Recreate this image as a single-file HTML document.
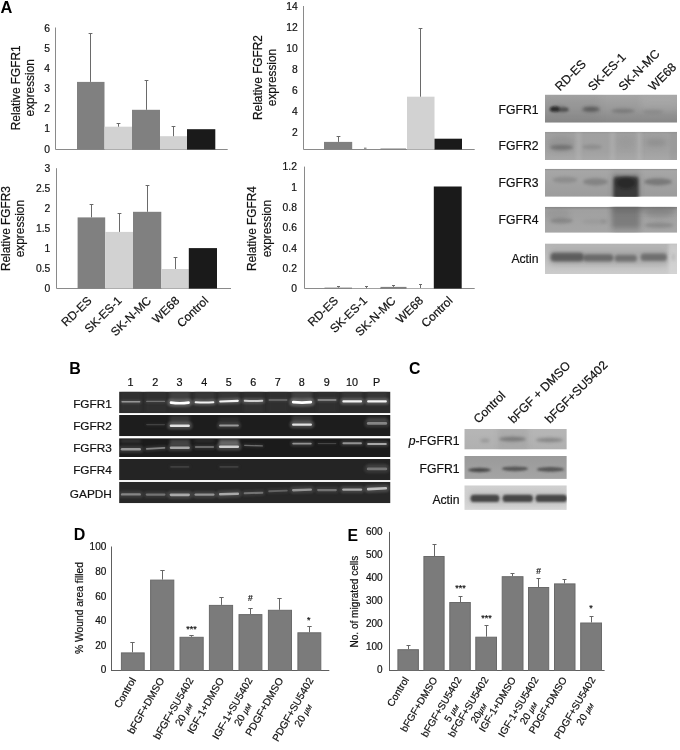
<!DOCTYPE html>
<html lang="en"><head><meta charset="utf-8"><title>FGFR expression figure</title>
<style>
html,body{margin:0;padding:0;background:#fff;}
svg{display:block;font-family:"Liberation Sans", sans-serif;}
</style></head><body>
<svg width="680" height="750" viewBox="0 0 680 750">
<rect width="680" height="750" fill="#fff"/>
<defs>
<filter id="b1" filterUnits="userSpaceOnUse" x="0" y="0" width="680" height="750"><feGaussianBlur stdDeviation="0.7"/></filter>
<filter id="b2" filterUnits="userSpaceOnUse" x="0" y="0" width="680" height="750"><feGaussianBlur stdDeviation="1.2"/></filter>
<filter id="b3" filterUnits="userSpaceOnUse" x="0" y="0" width="680" height="750"><feGaussianBlur stdDeviation="1.8"/></filter>
<filter id="b4" filterUnits="userSpaceOnUse" x="0" y="0" width="680" height="750"><feGaussianBlur stdDeviation="2.6"/></filter>
<filter id="b5" filterUnits="userSpaceOnUse" x="0" y="0" width="680" height="750"><feGaussianBlur stdDeviation="3.6"/></filter>
<linearGradient id="g1" x1="0" y1="0" x2="0" y2="1"><stop offset="0" stop-color="#a6a6a6"/><stop offset="0.5" stop-color="#999999"/><stop offset="1" stop-color="#878787"/></linearGradient>
<clipPath id="c1"><rect x="545.0" y="94.6" width="132.0" height="28.1"/></clipPath>
<linearGradient id="g2" x1="0" y1="0" x2="0" y2="1"><stop offset="0" stop-color="#959595"/><stop offset="0.08" stop-color="#a0a0a0"/><stop offset="0.7" stop-color="#a1a1a1"/><stop offset="1" stop-color="#a8a8a8"/></linearGradient>
<clipPath id="c2"><rect x="545.0" y="131.8" width="132.0" height="28.2"/></clipPath>
<linearGradient id="g3" x1="0" y1="0" x2="0" y2="1"><stop offset="0" stop-color="#8c8c8c"/><stop offset="0.07" stop-color="#a6a6a6"/><stop offset="1" stop-color="#9c9c9c"/></linearGradient>
<clipPath id="c3"><rect x="545.0" y="168.8" width="132.0" height="28.0"/></clipPath>
<linearGradient id="g4" x1="0" y1="0" x2="0" y2="1"><stop offset="0" stop-color="#868686"/><stop offset="0.12" stop-color="#a0a0a0"/><stop offset="1" stop-color="#a6a6a6"/></linearGradient>
<clipPath id="c4"><rect x="545.0" y="206.8" width="132.0" height="26.0"/></clipPath>
<linearGradient id="g5" x1="0" y1="0" x2="0" y2="1"><stop offset="0" stop-color="#b4b4b4"/><stop offset="0.4" stop-color="#c0c0c0"/><stop offset="1" stop-color="#cbcbcb"/></linearGradient>
<clipPath id="c5"><rect x="545.0" y="243.4" width="132.0" height="30.6"/></clipPath>
<linearGradient id="g6" x1="0" y1="0" x2="0" y2="1"><stop offset="0" stop-color="#b6b6b6"/><stop offset="1" stop-color="#b0b0b0"/></linearGradient>
<clipPath id="c6"><rect x="464.3" y="428.9" width="102.5" height="20.7"/></clipPath>
<linearGradient id="g7" x1="0" y1="0" x2="0" y2="1"><stop offset="0" stop-color="#9a9a9a"/><stop offset="1" stop-color="#a4a4a4"/></linearGradient>
<clipPath id="c7"><rect x="464.3" y="456.0" width="102.5" height="22.9"/></clipPath>
<linearGradient id="g8" x1="0" y1="0" x2="0" y2="1"><stop offset="0" stop-color="#cfcfcf"/><stop offset="1" stop-color="#d8d8d8"/></linearGradient>
<clipPath id="c8"><rect x="464.3" y="485.3" width="102.5" height="24.6"/></clipPath>
<clipPath id="c9"><rect x="119.1" y="391.6" width="271.4" height="21.6"/></clipPath>
<clipPath id="c10"><rect x="119.1" y="415.0" width="271.4" height="21.2"/></clipPath>
<clipPath id="c11"><rect x="119.1" y="438.2" width="271.4" height="18.8"/></clipPath>
<clipPath id="c12"><rect x="119.1" y="458.9" width="271.4" height="21.3"/></clipPath>
<clipPath id="c13"><rect x="119.1" y="481.8" width="271.4" height="21.4"/></clipPath>
</defs>
<text x="0.5" y="12.9" font-size="16.4" text-anchor="start" font-weight="bold" fill="#000">A</text>
<text x="69.3" y="373.6" font-size="16" text-anchor="start" font-weight="bold" fill="#000">B</text>
<text x="409.0" y="374.4" font-size="15.8" text-anchor="start" font-weight="bold" fill="#000">C</text>
<text x="73.8" y="540.4" font-size="16" text-anchor="start" font-weight="bold" fill="#000">D</text>
<text x="347.4" y="541.2" font-size="15.8" text-anchor="start" font-weight="bold" fill="#000">E</text>
<line x1="55.5" y1="27.5" x2="55.5" y2="149.5" stroke="#8a8a8a" stroke-width="1"/>
<line x1="55.5" y1="149.5" x2="227.7" y2="149.5" stroke="#8a8a8a" stroke-width="1"/>
<text x="50.1" y="152.5" font-size="10.3" text-anchor="end" fill="#111" stroke="#111" stroke-width="0.2">0</text>
<text x="50.1" y="132.4" font-size="10.3" text-anchor="end" fill="#111" stroke="#111" stroke-width="0.2">1</text>
<text x="50.1" y="112.3" font-size="10.3" text-anchor="end" fill="#111" stroke="#111" stroke-width="0.2">2</text>
<text x="50.1" y="92.1" font-size="10.3" text-anchor="end" fill="#111" stroke="#111" stroke-width="0.2">3</text>
<text x="50.1" y="72.0" font-size="10.3" text-anchor="end" fill="#111" stroke="#111" stroke-width="0.2">4</text>
<text x="50.1" y="51.9" font-size="10.3" text-anchor="end" fill="#111" stroke="#111" stroke-width="0.2">5</text>
<text x="50.1" y="31.8" font-size="10.3" text-anchor="end" fill="#111" stroke="#111" stroke-width="0.2">6</text>
<text x="20.0" y="87.8" font-size="11.85" text-anchor="middle" fill="#111" stroke="#111" stroke-width="0.2" transform="rotate(-90 20.0 87.8)">Relative FGFR1</text>
<text x="34.4" y="87.8" font-size="11.85" text-anchor="middle" fill="#111" stroke="#111" stroke-width="0.2" transform="rotate(-90 34.4 87.8)">expression</text>
<rect x="77.0" y="81.9" width="27.5" height="67.6" fill="#808080"/>
<line x1="90.5" y1="33.0" x2="90.5" y2="81.9" stroke="#6a6a6a" stroke-width="1"/>
<line x1="88.6" y1="33.5" x2="92.4" y2="33.5" stroke="#6a6a6a" stroke-width="1"/>
<rect x="104.5" y="126.7" width="27.5" height="22.8" fill="#d2d2d2"/>
<line x1="118.5" y1="123.0" x2="118.5" y2="126.7" stroke="#6a6a6a" stroke-width="1"/>
<line x1="116.6" y1="123.5" x2="120.4" y2="123.5" stroke="#6a6a6a" stroke-width="1"/>
<rect x="132.0" y="109.8" width="28.0" height="39.7" fill="#808080"/>
<line x1="146.5" y1="80.0" x2="146.5" y2="109.8" stroke="#6a6a6a" stroke-width="1"/>
<line x1="144.6" y1="80.5" x2="148.4" y2="80.5" stroke="#6a6a6a" stroke-width="1"/>
<rect x="160.0" y="136.2" width="27.0" height="13.3" fill="#d2d2d2"/>
<line x1="173.5" y1="126.0" x2="173.5" y2="136.2" stroke="#6a6a6a" stroke-width="1"/>
<line x1="171.6" y1="126.5" x2="175.4" y2="126.5" stroke="#6a6a6a" stroke-width="1"/>
<rect x="187.0" y="129.2" width="28.3" height="20.3" fill="#1a1a1a"/>
<line x1="56.5" y1="168.2" x2="56.5" y2="288.5" stroke="#8a8a8a" stroke-width="1"/>
<line x1="56.5" y1="288.5" x2="231.0" y2="288.5" stroke="#8a8a8a" stroke-width="1"/>
<text x="50.3" y="292.4" font-size="10.3" text-anchor="end" fill="#111" stroke="#111" stroke-width="0.2">0</text>
<text x="50.3" y="272.4" font-size="10.3" text-anchor="end" fill="#111" stroke="#111" stroke-width="0.2">0.5</text>
<text x="50.3" y="252.3" font-size="10.3" text-anchor="end" fill="#111" stroke="#111" stroke-width="0.2">1</text>
<text x="50.3" y="232.3" font-size="10.3" text-anchor="end" fill="#111" stroke="#111" stroke-width="0.2">1.5</text>
<text x="50.3" y="212.2" font-size="10.3" text-anchor="end" fill="#111" stroke="#111" stroke-width="0.2">2</text>
<text x="50.3" y="192.2" font-size="10.3" text-anchor="end" fill="#111" stroke="#111" stroke-width="0.2">2.5</text>
<text x="50.3" y="172.1" font-size="10.3" text-anchor="end" fill="#111" stroke="#111" stroke-width="0.2">3</text>
<text x="9.6" y="228.6" font-size="11.85" text-anchor="middle" fill="#111" stroke="#111" stroke-width="0.2" transform="rotate(-90 9.6 228.6)">Relative FGFR3</text>
<text x="24.0" y="228.6" font-size="11.85" text-anchor="middle" fill="#111" stroke="#111" stroke-width="0.2" transform="rotate(-90 24.0 228.6)">expression</text>
<rect x="77.6" y="217.4" width="27.6" height="71.1" fill="#808080"/>
<line x1="91.5" y1="204.0" x2="91.5" y2="217.4" stroke="#6a6a6a" stroke-width="1"/>
<line x1="89.6" y1="204.5" x2="93.4" y2="204.5" stroke="#6a6a6a" stroke-width="1"/>
<rect x="105.2" y="231.9" width="27.8" height="56.6" fill="#d2d2d2"/>
<line x1="119.5" y1="213.0" x2="119.5" y2="231.9" stroke="#6a6a6a" stroke-width="1"/>
<line x1="117.6" y1="213.5" x2="121.4" y2="213.5" stroke="#6a6a6a" stroke-width="1"/>
<rect x="133.0" y="211.8" width="28.3" height="76.7" fill="#808080"/>
<line x1="147.5" y1="185.0" x2="147.5" y2="211.8" stroke="#6a6a6a" stroke-width="1"/>
<line x1="145.6" y1="185.5" x2="149.4" y2="185.5" stroke="#6a6a6a" stroke-width="1"/>
<rect x="161.3" y="269.0" width="27.5" height="19.5" fill="#d2d2d2"/>
<line x1="175.5" y1="257.0" x2="175.5" y2="269.0" stroke="#6a6a6a" stroke-width="1"/>
<line x1="173.6" y1="257.5" x2="177.4" y2="257.5" stroke="#6a6a6a" stroke-width="1"/>
<rect x="188.8" y="248.1" width="28.2" height="40.4" fill="#1a1a1a"/>
<text x="92.5" y="301.5" font-size="11.85" text-anchor="end" fill="#111" stroke="#111" stroke-width="0.2" transform="rotate(-44 92.5 301.5)">RD-ES</text>
<text x="122.5" y="301.5" font-size="11.85" text-anchor="end" fill="#111" stroke="#111" stroke-width="0.2" transform="rotate(-44 122.5 301.5)">SK-ES-1</text>
<text x="152.0" y="301.5" font-size="11.85" text-anchor="end" fill="#111" stroke="#111" stroke-width="0.2" transform="rotate(-44 152.0 301.5)">SK-N-MC</text>
<text x="180.2" y="301.5" font-size="11.85" text-anchor="end" fill="#111" stroke="#111" stroke-width="0.2" transform="rotate(-44 180.2 301.5)">WE68</text>
<text x="209.2" y="301.5" font-size="11.85" text-anchor="end" fill="#111" stroke="#111" stroke-width="0.2" transform="rotate(-44 209.2 301.5)">Control</text>
<line x1="303.5" y1="6.0" x2="303.5" y2="149.5" stroke="#8a8a8a" stroke-width="1"/>
<line x1="303.5" y1="149.5" x2="474.7" y2="149.5" stroke="#8a8a8a" stroke-width="1"/>
<text x="297.7" y="135.6" font-size="10.3" text-anchor="end" fill="#111" stroke="#111" stroke-width="0.2">2</text>
<text x="297.7" y="114.7" font-size="10.3" text-anchor="end" fill="#111" stroke="#111" stroke-width="0.2">4</text>
<text x="297.7" y="93.8" font-size="10.3" text-anchor="end" fill="#111" stroke="#111" stroke-width="0.2">6</text>
<text x="297.7" y="72.9" font-size="10.3" text-anchor="end" fill="#111" stroke="#111" stroke-width="0.2">8</text>
<text x="297.7" y="52.0" font-size="10.3" text-anchor="end" fill="#111" stroke="#111" stroke-width="0.2">10</text>
<text x="297.7" y="31.1" font-size="10.3" text-anchor="end" fill="#111" stroke="#111" stroke-width="0.2">12</text>
<text x="297.7" y="10.2" font-size="10.3" text-anchor="end" fill="#111" stroke="#111" stroke-width="0.2">14</text>
<text x="262.0" y="77.5" font-size="11.85" text-anchor="middle" fill="#111" stroke="#111" stroke-width="0.2" transform="rotate(-90 262.0 77.5)">Relative FGFR2</text>
<text x="276.4" y="77.5" font-size="11.85" text-anchor="middle" fill="#111" stroke="#111" stroke-width="0.2" transform="rotate(-90 276.4 77.5)">expression</text>
<rect x="324.0" y="141.9" width="28.2" height="7.6" fill="#808080"/>
<line x1="338.5" y1="136.0" x2="338.5" y2="141.9" stroke="#6a6a6a" stroke-width="1"/>
<line x1="336.6" y1="136.5" x2="340.4" y2="136.5" stroke="#6a6a6a" stroke-width="1"/>
<rect x="380.5" y="148.5" width="25.5" height="1.0" fill="#808080"/>
<rect x="407.0" y="96.7" width="27.5" height="52.8" fill="#d2d2d2"/>
<line x1="420.5" y1="28.0" x2="420.5" y2="96.7" stroke="#6a6a6a" stroke-width="1"/>
<line x1="418.6" y1="28.5" x2="422.4" y2="28.5" stroke="#6a6a6a" stroke-width="1"/>
<rect x="434.5" y="138.7" width="27.5" height="10.8" fill="#1a1a1a"/>
<line x1="364.0" y1="148.2" x2="366.5" y2="148.2" stroke="#6a6a6a" stroke-width="1"/>
<line x1="304.5" y1="166.6" x2="304.5" y2="288.5" stroke="#8a8a8a" stroke-width="1"/>
<line x1="304.5" y1="288.5" x2="474.7" y2="288.5" stroke="#8a8a8a" stroke-width="1"/>
<text x="296.9" y="292.2" font-size="10.3" text-anchor="end" fill="#111" stroke="#111" stroke-width="0.2">0</text>
<text x="296.9" y="271.9" font-size="10.3" text-anchor="end" fill="#111" stroke="#111" stroke-width="0.2">0.2</text>
<text x="296.9" y="251.6" font-size="10.3" text-anchor="end" fill="#111" stroke="#111" stroke-width="0.2">0.4</text>
<text x="296.9" y="231.3" font-size="10.3" text-anchor="end" fill="#111" stroke="#111" stroke-width="0.2">0.6</text>
<text x="296.9" y="211.0" font-size="10.3" text-anchor="end" fill="#111" stroke="#111" stroke-width="0.2">0.8</text>
<text x="296.9" y="190.7" font-size="10.3" text-anchor="end" fill="#111" stroke="#111" stroke-width="0.2">1</text>
<text x="296.9" y="170.4" font-size="10.3" text-anchor="end" fill="#111" stroke="#111" stroke-width="0.2">1.2</text>
<text x="256.3" y="228.6" font-size="11.85" text-anchor="middle" fill="#111" stroke="#111" stroke-width="0.2" transform="rotate(-90 256.3 228.6)">Relative FGFR4</text>
<text x="270.7" y="228.6" font-size="11.85" text-anchor="middle" fill="#111" stroke="#111" stroke-width="0.2" transform="rotate(-90 270.7 228.6)">expression</text>
<rect x="324.5" y="287.6" width="27.5" height="0.9" fill="#808080"/>
<line x1="338.5" y1="286.0" x2="338.5" y2="287.6" stroke="#6a6a6a" stroke-width="1"/>
<line x1="337.0" y1="286.5" x2="340.0" y2="286.5" stroke="#6a6a6a" stroke-width="1"/>
<rect x="352.0" y="288.2" width="28.0" height="0.3" fill="#d2d2d2"/>
<line x1="366.5" y1="286.0" x2="366.5" y2="288.2" stroke="#6a6a6a" stroke-width="1"/>
<line x1="365.0" y1="286.5" x2="368.0" y2="286.5" stroke="#6a6a6a" stroke-width="1"/>
<rect x="380.5" y="286.9" width="26.0" height="1.6" fill="#808080"/>
<line x1="393.5" y1="285.0" x2="393.5" y2="286.9" stroke="#6a6a6a" stroke-width="1"/>
<line x1="392.0" y1="285.5" x2="395.0" y2="285.5" stroke="#6a6a6a" stroke-width="1"/>
<rect x="406.5" y="288.0" width="27.5" height="0.5" fill="#d2d2d2"/>
<line x1="420.5" y1="284.0" x2="420.5" y2="288.0" stroke="#6a6a6a" stroke-width="1"/>
<line x1="419.0" y1="284.5" x2="422.0" y2="284.5" stroke="#6a6a6a" stroke-width="1"/>
<rect x="433.8" y="186.5" width="27.9" height="102.0" fill="#1a1a1a"/>
<text x="339.0" y="301.5" font-size="11.85" text-anchor="end" fill="#111" stroke="#111" stroke-width="0.2" transform="rotate(-44 339.0 301.5)">RD-ES</text>
<text x="368.0" y="301.5" font-size="11.85" text-anchor="end" fill="#111" stroke="#111" stroke-width="0.2" transform="rotate(-44 368.0 301.5)">SK-ES-1</text>
<text x="396.5" y="301.5" font-size="11.85" text-anchor="end" fill="#111" stroke="#111" stroke-width="0.2" transform="rotate(-44 396.5 301.5)">SK-N-MC</text>
<text x="424.0" y="301.5" font-size="11.85" text-anchor="end" fill="#111" stroke="#111" stroke-width="0.2" transform="rotate(-44 424.0 301.5)">WE68</text>
<text x="453.5" y="301.5" font-size="11.85" text-anchor="end" fill="#111" stroke="#111" stroke-width="0.2" transform="rotate(-44 453.5 301.5)">Control</text>
<line x1="111.5" y1="546.5" x2="111.5" y2="670.5" stroke="#5e5e5e" stroke-width="1"/>
<line x1="111.0" y1="670.5" x2="329.3" y2="670.5" stroke="#5e5e5e" stroke-width="1"/>
<text x="106.3" y="673.3" font-size="10" text-anchor="end" fill="#111" stroke="#111" stroke-width="0.2">0</text>
<text x="106.3" y="648.7" font-size="10" text-anchor="end" fill="#111" stroke="#111" stroke-width="0.2">20</text>
<text x="106.3" y="624.1" font-size="10" text-anchor="end" fill="#111" stroke="#111" stroke-width="0.2">40</text>
<text x="106.3" y="599.6" font-size="10" text-anchor="end" fill="#111" stroke="#111" stroke-width="0.2">60</text>
<text x="106.3" y="575.0" font-size="10" text-anchor="end" fill="#111" stroke="#111" stroke-width="0.2">80</text>
<text x="106.3" y="550.4" font-size="10" text-anchor="end" fill="#111" stroke="#111" stroke-width="0.2">100</text>
<text x="83.3" y="608.0" font-size="10.3" text-anchor="middle" fill="#111" stroke="#111" stroke-width="0.2" transform="rotate(-90 83.3 608.0)">% Wound area filled</text>
<rect x="121.4" y="652.9" width="22.8" height="17.6" fill="#7b7b7b" stroke="#6a6a6a" stroke-width="1"/>
<line x1="132.5" y1="642.0" x2="132.5" y2="652.4" stroke="#666" stroke-width="1"/>
<line x1="130.3" y1="642.5" x2="134.7" y2="642.5" stroke="#666" stroke-width="1"/>
<rect x="150.6" y="580.1" width="23.2" height="90.4" fill="#7b7b7b" stroke="#6a6a6a" stroke-width="1"/>
<line x1="162.5" y1="570.0" x2="162.5" y2="579.6" stroke="#666" stroke-width="1"/>
<line x1="160.3" y1="570.5" x2="164.7" y2="570.5" stroke="#666" stroke-width="1"/>
<rect x="180.0" y="637.3" width="23.2" height="33.2" fill="#7b7b7b" stroke="#6a6a6a" stroke-width="1"/>
<line x1="191.5" y1="635.0" x2="191.5" y2="636.8" stroke="#666" stroke-width="1"/>
<line x1="189.3" y1="635.5" x2="193.7" y2="635.5" stroke="#666" stroke-width="1"/>
<rect x="209.4" y="605.4" width="23.2" height="65.1" fill="#7b7b7b" stroke="#6a6a6a" stroke-width="1"/>
<line x1="221.5" y1="597.0" x2="221.5" y2="604.9" stroke="#666" stroke-width="1"/>
<line x1="219.3" y1="597.5" x2="223.7" y2="597.5" stroke="#666" stroke-width="1"/>
<rect x="239.0" y="614.6" width="22.9" height="55.9" fill="#7b7b7b" stroke="#6a6a6a" stroke-width="1"/>
<line x1="250.5" y1="608.0" x2="250.5" y2="614.1" stroke="#666" stroke-width="1"/>
<line x1="248.3" y1="608.5" x2="252.7" y2="608.5" stroke="#666" stroke-width="1"/>
<rect x="268.4" y="610.3" width="23.1" height="60.2" fill="#7b7b7b" stroke="#6a6a6a" stroke-width="1"/>
<line x1="279.5" y1="598.0" x2="279.5" y2="609.8" stroke="#666" stroke-width="1"/>
<line x1="277.3" y1="598.5" x2="281.7" y2="598.5" stroke="#666" stroke-width="1"/>
<rect x="297.9" y="632.8" width="22.9" height="37.7" fill="#7b7b7b" stroke="#6a6a6a" stroke-width="1"/>
<line x1="309.5" y1="626.0" x2="309.5" y2="632.3" stroke="#666" stroke-width="1"/>
<line x1="307.3" y1="626.5" x2="311.7" y2="626.5" stroke="#666" stroke-width="1"/>
<text x="191.6" y="631.5" font-size="9" text-anchor="middle" fill="#111" stroke="#111" stroke-width="0.2">***</text>
<text x="250.4" y="600.7" font-size="8.5" text-anchor="middle" fill="#111" stroke="#111" stroke-width="0.2">#</text>
<text x="308.7" y="623.0" font-size="9" text-anchor="middle" fill="#111" stroke="#111" stroke-width="0.2">*</text>
<g transform="translate(136.3 680.1) rotate(-60)" font-size="10.3" fill="#111" stroke="#111" stroke-width="0.2">
<text x="0" y="0" text-anchor="end">Control</text>
</g>
<g transform="translate(164.8 680.1) rotate(-60)" font-size="10.3" fill="#111" stroke="#111" stroke-width="0.2">
<text x="0" y="0" text-anchor="end">bFGF+DMSO</text>
</g>
<g transform="translate(193.8 680.1) rotate(-60)" font-size="10.3" fill="#111" stroke="#111" stroke-width="0.2">
<text x="0" y="0" text-anchor="end">bFGF+SU5402</text>
<text x="-34.8" y="12" text-anchor="middle">20 <tspan font-style="italic" font-size="8.2">μ</tspan><tspan font-size="6.8" font-style="italic">M</tspan></text>
</g>
<g transform="translate(224.5 680.1) rotate(-60)" font-size="10.3" fill="#111" stroke="#111" stroke-width="0.2">
<text x="0" y="0" text-anchor="end">IGF-1+DMSO</text>
</g>
<g transform="translate(252.8 680.1) rotate(-60)" font-size="10.3" fill="#111" stroke="#111" stroke-width="0.2">
<text x="0" y="0" text-anchor="end">IGF-1+SU5402</text>
<text x="-34.8" y="12" text-anchor="middle">20 <tspan font-style="italic" font-size="8.2">μ</tspan><tspan font-size="6.8" font-style="italic">M</tspan></text>
</g>
<g transform="translate(283.8 680.1) rotate(-60)" font-size="10.3" fill="#111" stroke="#111" stroke-width="0.2">
<text x="0" y="0" text-anchor="end">PDGF+DMSO</text>
</g>
<g transform="translate(313.8 680.1) rotate(-60)" font-size="10.3" fill="#111" stroke="#111" stroke-width="0.2">
<text x="0" y="0" text-anchor="end">PDGF+SU5402</text>
<text x="-35.9" y="12" text-anchor="middle">20 <tspan font-style="italic" font-size="8.2">μ</tspan><tspan font-size="6.8" font-style="italic">M</tspan></text>
</g>
<line x1="389.5" y1="531.9" x2="389.5" y2="670.5" stroke="#5e5e5e" stroke-width="1"/>
<line x1="389.0" y1="670.5" x2="604.6" y2="670.5" stroke="#5e5e5e" stroke-width="1"/>
<text x="382.6" y="673.1" font-size="10" text-anchor="end" fill="#111" stroke="#111" stroke-width="0.2">0</text>
<text x="382.6" y="650.1" font-size="10" text-anchor="end" fill="#111" stroke="#111" stroke-width="0.2">100</text>
<text x="382.6" y="627.2" font-size="10" text-anchor="end" fill="#111" stroke="#111" stroke-width="0.2">200</text>
<text x="382.6" y="604.2" font-size="10" text-anchor="end" fill="#111" stroke="#111" stroke-width="0.2">300</text>
<text x="382.6" y="581.2" font-size="10" text-anchor="end" fill="#111" stroke="#111" stroke-width="0.2">400</text>
<text x="382.6" y="558.2" font-size="10" text-anchor="end" fill="#111" stroke="#111" stroke-width="0.2">500</text>
<text x="382.6" y="535.3" font-size="10" text-anchor="end" fill="#111" stroke="#111" stroke-width="0.2">600</text>
<text x="358.0" y="601.6" font-size="10.1" text-anchor="middle" fill="#111" stroke="#111" stroke-width="0.2" transform="rotate(-90 358.0 601.6)">No. of migrated cells</text>
<rect x="397.9" y="649.7" width="20.5" height="20.8" fill="#7b7b7b" stroke="#6a6a6a" stroke-width="1"/>
<line x1="408.5" y1="645.0" x2="408.5" y2="649.2" stroke="#666" stroke-width="1"/>
<line x1="406.5" y1="645.5" x2="410.5" y2="645.5" stroke="#666" stroke-width="1"/>
<rect x="423.9" y="556.5" width="20.2" height="114.0" fill="#7b7b7b" stroke="#6a6a6a" stroke-width="1"/>
<line x1="434.5" y1="544.0" x2="434.5" y2="556.0" stroke="#666" stroke-width="1"/>
<line x1="432.5" y1="544.5" x2="436.5" y2="544.5" stroke="#666" stroke-width="1"/>
<rect x="449.8" y="602.5" width="20.5" height="68.0" fill="#7b7b7b" stroke="#6a6a6a" stroke-width="1"/>
<line x1="460.5" y1="596.0" x2="460.5" y2="602.0" stroke="#666" stroke-width="1"/>
<line x1="458.5" y1="596.5" x2="462.5" y2="596.5" stroke="#666" stroke-width="1"/>
<rect x="475.8" y="637.2" width="20.7" height="33.3" fill="#7b7b7b" stroke="#6a6a6a" stroke-width="1"/>
<line x1="486.5" y1="625.0" x2="486.5" y2="636.7" stroke="#666" stroke-width="1"/>
<line x1="484.5" y1="625.5" x2="488.5" y2="625.5" stroke="#666" stroke-width="1"/>
<rect x="502.2" y="576.7" width="20.8" height="93.8" fill="#7b7b7b" stroke="#6a6a6a" stroke-width="1"/>
<line x1="512.5" y1="573.0" x2="512.5" y2="576.2" stroke="#666" stroke-width="1"/>
<line x1="510.5" y1="573.5" x2="514.5" y2="573.5" stroke="#666" stroke-width="1"/>
<rect x="528.5" y="587.5" width="20.2" height="83.0" fill="#7b7b7b" stroke="#6a6a6a" stroke-width="1"/>
<line x1="538.5" y1="578.0" x2="538.5" y2="587.0" stroke="#666" stroke-width="1"/>
<line x1="536.5" y1="578.5" x2="540.5" y2="578.5" stroke="#666" stroke-width="1"/>
<rect x="554.5" y="583.9" width="20.5" height="86.6" fill="#7b7b7b" stroke="#6a6a6a" stroke-width="1"/>
<line x1="564.5" y1="579.0" x2="564.5" y2="583.4" stroke="#666" stroke-width="1"/>
<line x1="562.5" y1="579.5" x2="566.5" y2="579.5" stroke="#666" stroke-width="1"/>
<rect x="580.7" y="623.0" width="20.8" height="47.5" fill="#7b7b7b" stroke="#6a6a6a" stroke-width="1"/>
<line x1="591.5" y1="616.0" x2="591.5" y2="622.5" stroke="#666" stroke-width="1"/>
<line x1="589.5" y1="616.5" x2="593.5" y2="616.5" stroke="#666" stroke-width="1"/>
<text x="460.4" y="591.0" font-size="9" text-anchor="middle" fill="#111" stroke="#111" stroke-width="0.2">***</text>
<text x="486.4" y="621.0" font-size="9" text-anchor="middle" fill="#111" stroke="#111" stroke-width="0.2">***</text>
<text x="538.6" y="574.0" font-size="8.5" text-anchor="middle" fill="#111" stroke="#111" stroke-width="0.2">#</text>
<text x="590.9" y="611.3" font-size="9" text-anchor="middle" fill="#111" stroke="#111" stroke-width="0.2">*</text>
<g transform="translate(409.3 679.5) rotate(-59)" font-size="10.1" fill="#111" stroke="#111" stroke-width="0.2">
<text x="0" y="0" text-anchor="end">Control</text>
</g>
<g transform="translate(437.8 679.5) rotate(-59)" font-size="10.1" fill="#111" stroke="#111" stroke-width="0.2">
<text x="0" y="0" text-anchor="end">bFGF+DMSO</text>
</g>
<g transform="translate(461.8 679.5) rotate(-59)" font-size="10.1" fill="#111" stroke="#111" stroke-width="0.2">
<text x="0" y="0" text-anchor="end">bFGF+SU5402</text>
<text x="-34.1" y="12" text-anchor="middle">5 <tspan font-style="italic" font-size="8.1">μ</tspan><tspan font-size="6.7" font-style="italic">M</tspan></text>
</g>
<g transform="translate(488.8 679.5) rotate(-59)" font-size="10.1" fill="#111" stroke="#111" stroke-width="0.2">
<text x="0" y="0" text-anchor="end">bFGF+SU5402</text>
<text x="-34.1" y="12" text-anchor="middle">20<tspan font-style="italic" font-size="8.1">μ</tspan><tspan font-size="6.7" font-style="italic">M</tspan></text>
</g>
<g transform="translate(516.3 679.5) rotate(-59)" font-size="10.1" fill="#111" stroke="#111" stroke-width="0.2">
<text x="0" y="0" text-anchor="end">IGF-1+DMSO</text>
</g>
<g transform="translate(538.8 679.5) rotate(-59)" font-size="10.1" fill="#111" stroke="#111" stroke-width="0.2">
<text x="0" y="0" text-anchor="end">IGF-1+SU5402</text>
<text x="-34.1" y="12" text-anchor="middle">20 <tspan font-style="italic" font-size="8.1">μ</tspan><tspan font-size="6.7" font-style="italic">M</tspan></text>
</g>
<g transform="translate(567.3 679.5) rotate(-59)" font-size="10.1" fill="#111" stroke="#111" stroke-width="0.2">
<text x="0" y="0" text-anchor="end">PDGF+DMSO</text>
</g>
<g transform="translate(595.8 679.5) rotate(-59)" font-size="10.1" fill="#111" stroke="#111" stroke-width="0.2">
<text x="0" y="0" text-anchor="end">PDGF+SU5402</text>
<text x="-35.2" y="12" text-anchor="middle">20 <tspan font-style="italic" font-size="8.1">μ</tspan><tspan font-size="6.7" font-style="italic">M</tspan></text>
</g>
<text x="560.0" y="91.5" font-size="12.2" text-anchor="start" fill="#111" stroke="#111" stroke-width="0.2" transform="rotate(-45 560.0 91.5)">RD-ES</text>
<text x="593.0" y="91.5" font-size="12.2" text-anchor="start" fill="#111" stroke="#111" stroke-width="0.2" transform="rotate(-45 593.0 91.5)">SK-ES-1</text>
<text x="623.5" y="91.5" font-size="12.2" text-anchor="start" fill="#111" stroke="#111" stroke-width="0.2" transform="rotate(-45 623.5 91.5)">SK-N-MC</text>
<text x="653.5" y="91.5" font-size="12.2" text-anchor="start" fill="#111" stroke="#111" stroke-width="0.2" transform="rotate(-45 653.5 91.5)">WE68</text>
<text x="538.5" y="113.5" font-size="12.2" text-anchor="end" fill="#111" stroke="#111" stroke-width="0.2">FGFR1</text>
<text x="538.5" y="150.3" font-size="12.2" text-anchor="end" fill="#111" stroke="#111" stroke-width="0.2">FGFR2</text>
<text x="538.5" y="186.9" font-size="12.2" text-anchor="end" fill="#111" stroke="#111" stroke-width="0.2">FGFR3</text>
<text x="538.5" y="224.3" font-size="12.2" text-anchor="end" fill="#111" stroke="#111" stroke-width="0.2">FGFR4</text>
<text x="538.5" y="262.9" font-size="12.2" text-anchor="end" fill="#111" stroke="#111" stroke-width="0.2">Actin</text>
<g clip-path="url(#c1)">
<rect x="545.0" y="94.6" width="132.0" height="28.1" fill="url(#g1)"/>
<rect x="545.0" y="94.0" width="55.0" height="29.0" rx="0" fill="#777" opacity="0.12" filter="url(#b5)"/>
<rect x="640.0" y="94.0" width="40.0" height="16.0" rx="0" fill="#bbb" opacity="0.25" filter="url(#b5)"/>
<ellipse cx="555.0" cy="109.0" rx="5.0" ry="2.6" fill="#111" opacity="0.85" filter="url(#b2)"/>
<ellipse cx="563.5" cy="109.5" rx="5.0" ry="2.0" fill="#333" opacity="0.6" filter="url(#b2)"/>
<ellipse cx="559.0" cy="109.2" rx="10.0" ry="3.6" fill="#444" opacity="0.3" filter="url(#b3)"/>
<ellipse cx="591.0" cy="109.2" rx="8.0" ry="2.3" fill="#333" opacity="0.55" filter="url(#b3)"/>
<ellipse cx="591.0" cy="109.4" rx="10.0" ry="3.6" fill="#555" opacity="0.2" filter="url(#b3)"/>
<ellipse cx="623.0" cy="110.9" rx="11.5" ry="2.3" fill="#555" opacity="0.4" filter="url(#b3)"/>
<ellipse cx="653.0" cy="111.6" rx="10.5" ry="2.2" fill="#666" opacity="0.26" filter="url(#b3)"/>
</g>
<g clip-path="url(#c2)">
<rect x="545.0" y="131.8" width="132.0" height="28.2" fill="url(#g2)"/>
<rect x="575.5" y="131.0" width="6.0" height="30.0" rx="0" fill="#c4c4c4" opacity="0.26" filter="url(#b3)"/>
<rect x="609.5" y="131.0" width="6.0" height="30.0" rx="0" fill="#c4c4c4" opacity="0.26" filter="url(#b3)"/>
<rect x="636.5" y="131.0" width="5.5" height="30.0" rx="0" fill="#c4c4c4" opacity="0.28" filter="url(#b3)"/>
<rect x="670.0" y="131.0" width="10.0" height="30.0" rx="0" fill="#888" opacity="0.2" filter="url(#b3)"/>
<ellipse cx="561.5" cy="147.4" rx="11.5" ry="2.6" fill="#444" opacity="0.45" filter="url(#b3)"/>
<ellipse cx="561.0" cy="144.0" rx="13.0" ry="8.0" fill="#666" opacity="0.18" filter="url(#b4)"/>
<ellipse cx="592.0" cy="147.0" rx="10.0" ry="2.4" fill="#555" opacity="0.24" filter="url(#b3)"/>
<ellipse cx="656.0" cy="142.5" rx="11.0" ry="4.0" fill="#666" opacity="0.27" filter="url(#b4)"/>
<ellipse cx="626.0" cy="142.0" rx="9.0" ry="7.0" fill="#777" opacity="0.12" filter="url(#b4)"/>
</g>
<g clip-path="url(#c3)">
<rect x="545.0" y="168.8" width="132.0" height="28.0" fill="url(#g3)"/>
<rect x="613.5" y="176.5" width="25.0" height="23.5" rx="3" fill="#242424" opacity="0.86" filter="url(#b3)"/>
<rect x="612.0" y="172.0" width="28.0" height="28.0" rx="0" fill="#555" opacity="0.25" filter="url(#b4)"/>
<ellipse cx="565.0" cy="179.8" rx="12.5" ry="3.0" fill="#555" opacity="0.27" filter="url(#b3)"/>
<ellipse cx="595.5" cy="181.8" rx="12.5" ry="3.6" fill="#444" opacity="0.32" filter="url(#b3)"/>
<ellipse cx="658.0" cy="181.8" rx="14.0" ry="3.6" fill="#333" opacity="0.36" filter="url(#b3)"/>
<ellipse cx="626.0" cy="183.0" rx="10.0" ry="6.0" fill="#111" opacity="0.4" filter="url(#b3)"/>
</g>
<g clip-path="url(#c4)">
<rect x="545.0" y="206.8" width="132.0" height="26.0" fill="url(#g4)"/>
<rect x="612.0" y="204.0" width="27.5" height="24.0" rx="0" fill="#5a5a5a" opacity="0.5" filter="url(#b4)"/>
<rect x="612.0" y="204.0" width="28.0" height="32.0" rx="0" fill="#777" opacity="0.22" filter="url(#b4)"/>
<rect x="612.0" y="204.0" width="64.0" height="8.0" rx="0" fill="#555" opacity="0.3" filter="url(#b4)"/>
<ellipse cx="561.5" cy="220.8" rx="11.5" ry="2.8" fill="#555" opacity="0.33" filter="url(#b3)"/>
<ellipse cx="558.0" cy="214.0" rx="12.0" ry="6.0" fill="#777" opacity="0.2" filter="url(#b4)"/>
<ellipse cx="594.0" cy="221.7" rx="12.0" ry="2.6" fill="#777" opacity="0.17" filter="url(#b3)"/>
<ellipse cx="604.0" cy="221.5" rx="3.0" ry="2.2" fill="#666" opacity="0.2" filter="url(#b3)"/>
<ellipse cx="659.0" cy="213.0" rx="14.0" ry="5.0" fill="#666" opacity="0.3" filter="url(#b4)"/>
<ellipse cx="659.0" cy="225.2" rx="14.5" ry="2.8" fill="#555" opacity="0.3" filter="url(#b3)"/>
</g>
<g clip-path="url(#c5)">
<rect x="545.0" y="243.4" width="132.0" height="30.6" fill="url(#g5)"/>
<rect x="550.5" y="252.8" width="33.5" height="8.6" rx="4" fill="#3a3a3a" opacity="0.85" filter="url(#b3)"/>
<rect x="583.0" y="254.2" width="30.5" height="7.2" rx="3.5" fill="#484848" opacity="0.8" filter="url(#b3)"/>
<rect x="614.5" y="254.8" width="22.5" height="7.0" rx="3.4" fill="#505050" opacity="0.75" filter="url(#b3)"/>
<rect x="640.5" y="253.6" width="26.5" height="7.4" rx="3.5" fill="#4c4c4c" opacity="0.75" filter="url(#b3)"/>
<rect x="548.0" y="249.0" width="121.0" height="17.0" rx="6" fill="#808080" opacity="0.3" filter="url(#b4)"/>
<rect x="668.5" y="243.0" width="11.5" height="32.0" rx="0" fill="#e0e0e0" opacity="0.45" filter="url(#b3)"/>
<ellipse cx="673.5" cy="257.0" rx="2.0" ry="4.0" fill="#aaa" opacity="0.5" filter="url(#b3)"/>
</g>
<text x="478.5" y="424.0" font-size="12.2" text-anchor="start" fill="#111" stroke="#111" stroke-width="0.2" transform="rotate(-45 478.5 424.0)">Control</text>
<text x="513.5" y="424.0" font-size="12.2" text-anchor="start" fill="#111" stroke="#111" stroke-width="0.2" transform="rotate(-45 513.5 424.0)">bFGF + DMSO</text>
<text x="550.0" y="424.0" font-size="12.2" text-anchor="start" fill="#111" stroke="#111" stroke-width="0.2" transform="rotate(-45 550.0 424.0)">bFGF+SU5402</text>
<text x="459.5" y="445" font-size="12.2" text-anchor="end" fill="#111" stroke="#111" stroke-width="0.2"><tspan font-style="italic">p</tspan>-FGFR1</text>
<text x="459.5" y="472.8" font-size="12.2" text-anchor="end" fill="#111" stroke="#111" stroke-width="0.2">FGFR1</text>
<text x="459.5" y="504.2" font-size="12.2" text-anchor="end" fill="#111" stroke="#111" stroke-width="0.2">Actin</text>
<g clip-path="url(#c6)">
<rect x="464.3" y="428.9" width="102.5" height="20.7" fill="url(#g6)"/>
<rect x="498.0" y="428.0" width="30.0" height="22.0" rx="0" fill="#999" opacity="0.35" filter="url(#b4)"/>
<ellipse cx="485.0" cy="440.6" rx="4.5" ry="2.0" fill="#777" opacity="0.4" filter="url(#b3)"/>
<ellipse cx="512.5" cy="439.1" rx="13.5" ry="2.4" fill="#555" opacity="0.55" filter="url(#b3)"/>
<ellipse cx="549.5" cy="440.0" rx="13.5" ry="2.2" fill="#555" opacity="0.45" filter="url(#b3)"/>
</g>
<g clip-path="url(#c7)">
<rect x="464.3" y="456.0" width="102.5" height="22.9" fill="url(#g7)"/>
<ellipse cx="479.5" cy="470.0" rx="11.5" ry="2.2" fill="#333" opacity="0.75" filter="url(#b2)"/>
<ellipse cx="515.0" cy="468.8" rx="13.0" ry="2.4" fill="#3a3a3a" opacity="0.7" filter="url(#b2)"/>
<ellipse cx="550.5" cy="469.4" rx="13.5" ry="2.4" fill="#383838" opacity="0.7" filter="url(#b2)"/>
</g>
<g clip-path="url(#c8)">
<rect x="464.3" y="485.3" width="102.5" height="24.6" fill="url(#g8)"/>
<rect x="470.5" y="494.8" width="29.0" height="7.2" rx="3.6" fill="#2a2a2a" opacity="0.95" filter="url(#b2)"/>
<rect x="502.5" y="494.8" width="30.5" height="7.2" rx="3.6" fill="#2c2c2c" opacity="0.95" filter="url(#b2)"/>
<rect x="535.5" y="494.8" width="31.5" height="7.2" rx="3.6" fill="#2a2a2a" opacity="0.95" filter="url(#b2)"/>
<rect x="468.0" y="492.0" width="100.0" height="13.0" rx="5" fill="#888" opacity="0.25" filter="url(#b4)"/>
</g>
<text x="130.6" y="385.9" font-size="10.8" text-anchor="middle" fill="#111" stroke="#111" stroke-width="0.2">1</text>
<text x="155.3" y="385.9" font-size="10.8" text-anchor="middle" fill="#111" stroke="#111" stroke-width="0.2">2</text>
<text x="179.5" y="385.9" font-size="10.8" text-anchor="middle" fill="#111" stroke="#111" stroke-width="0.2">3</text>
<text x="204.2" y="385.9" font-size="10.8" text-anchor="middle" fill="#111" stroke="#111" stroke-width="0.2">4</text>
<text x="228.7" y="385.9" font-size="10.8" text-anchor="middle" fill="#111" stroke="#111" stroke-width="0.2">5</text>
<text x="253.2" y="385.9" font-size="10.8" text-anchor="middle" fill="#111" stroke="#111" stroke-width="0.2">6</text>
<text x="277.7" y="385.9" font-size="10.8" text-anchor="middle" fill="#111" stroke="#111" stroke-width="0.2">7</text>
<text x="301.7" y="385.9" font-size="10.8" text-anchor="middle" fill="#111" stroke="#111" stroke-width="0.2">8</text>
<text x="326.7" y="385.9" font-size="10.8" text-anchor="middle" fill="#111" stroke="#111" stroke-width="0.2">9</text>
<text x="351.9" y="385.9" font-size="10.8" text-anchor="middle" fill="#111" stroke="#111" stroke-width="0.2">10</text>
<text x="376.7" y="385.9" font-size="10.8" text-anchor="middle" fill="#111" stroke="#111" stroke-width="0.2">P</text>
<text x="111.8" y="407.5" font-size="11.8" text-anchor="end" fill="#111" stroke="#111" stroke-width="0.2">FGFR1</text>
<text x="111.8" y="430.0" font-size="11.8" text-anchor="end" fill="#111" stroke="#111" stroke-width="0.2">FGFR2</text>
<text x="111.8" y="451.6" font-size="11.8" text-anchor="end" fill="#111" stroke="#111" stroke-width="0.2">FGFR3</text>
<text x="111.8" y="474.1" font-size="11.8" text-anchor="end" fill="#111" stroke="#111" stroke-width="0.2">FGFR4</text>
<text x="111.8" y="497.5" font-size="11.8" text-anchor="end" fill="#111" stroke="#111" stroke-width="0.2">GAPDH</text>
<g clip-path="url(#c9)">
<rect x="119.1" y="391.6" width="271.4" height="21.6" fill="#2c2c2c"/>
<rect x="120.9" y="391.0" width="20" height="22.0" fill="#3a3a3a" opacity="0.35" filter="url(#b3)"/>
<rect x="145.6" y="391.0" width="20" height="22.0" fill="#3a3a3a" opacity="0.3" filter="url(#b3)"/>
<rect x="243.5" y="391.0" width="20" height="22.0" fill="#3a3a3a" opacity="0.35" filter="url(#b3)"/>
<rect x="268.0" y="391.0" width="20" height="22.0" fill="#3a3a3a" opacity="0.3" filter="url(#b3)"/>
<rect x="317.0" y="391.0" width="20" height="22.0" fill="#3a3a3a" opacity="0.3" filter="url(#b3)"/>
<rect x="169.8" y="391.0" width="20" height="11.0" fill="#555" opacity="0.5" filter="url(#b3)"/>
<rect x="194.5" y="391.0" width="20" height="10.0" fill="#444" opacity="0.45" filter="url(#b3)"/>
<rect x="219.0" y="391.0" width="20" height="9.0" fill="#444" opacity="0.45" filter="url(#b3)"/>
<rect x="292.0" y="391.0" width="20" height="10.0" fill="#555" opacity="0.5" filter="url(#b3)"/>
<rect x="342.2" y="391.0" width="20" height="9.0" fill="#444" opacity="0.45" filter="url(#b3)"/>
<rect x="367.0" y="391.0" width="20" height="9.0" fill="#444" opacity="0.45" filter="url(#b3)"/>
<path d="M122.1,401.8 Q130.9,401.8 139.7,401.8" fill="none" stroke="#aaa" stroke-width="4.3" stroke-linecap="round" opacity="0.18" filter="url(#b2)"/>
<path d="M122.1,401.8 Q130.9,401.8 139.7,401.8" fill="none" stroke="#aaa" stroke-width="1.4" stroke-linecap="round" opacity="0.8" filter="url(#b1)"/>
<path d="M146.8,401.4 Q155.6,401.4 164.4,401.4" fill="none" stroke="#888" stroke-width="4.3" stroke-linecap="round" opacity="0.15" filter="url(#b2)"/>
<path d="M146.8,401.4 Q155.6,401.4 164.4,401.4" fill="none" stroke="#888" stroke-width="1.4" stroke-linecap="round" opacity="0.7" filter="url(#b1)"/>
<path d="M171.0,402.6 Q179.8,403.8 188.6,402.6" fill="none" stroke="#fff" stroke-width="7.7" stroke-linecap="round" opacity="0.22" filter="url(#b2)"/>
<path d="M171.0,402.6 Q179.8,403.8 188.6,402.6" fill="none" stroke="#fff" stroke-width="2.6" stroke-linecap="round" opacity="1" filter="url(#b1)"/>
<path d="M195.7,402.2 Q204.5,402.8 213.3,402.2" fill="none" stroke="#fff" stroke-width="6.2" stroke-linecap="round" opacity="0.20" filter="url(#b2)"/>
<path d="M195.7,402.2 Q204.5,402.8 213.3,402.2" fill="none" stroke="#fff" stroke-width="2.1" stroke-linecap="round" opacity="0.92" filter="url(#b1)"/>
<path d="M220.2,401.5 Q229.0,401.2 237.8,400.9" fill="none" stroke="#fff" stroke-width="6.2" stroke-linecap="round" opacity="0.20" filter="url(#b2)"/>
<path d="M220.2,401.5 Q229.0,401.2 237.8,400.9" fill="none" stroke="#fff" stroke-width="2.1" stroke-linecap="round" opacity="0.92" filter="url(#b1)"/>
<path d="M244.7,400.8 Q253.5,401.2 262.3,400.8" fill="none" stroke="#eee" stroke-width="5.8" stroke-linecap="round" opacity="0.18" filter="url(#b2)"/>
<path d="M244.7,400.8 Q253.5,401.2 262.3,400.8" fill="none" stroke="#eee" stroke-width="1.9" stroke-linecap="round" opacity="0.8" filter="url(#b1)"/>
<path d="M269.2,400.0 Q278.0,400.0 286.8,400.0" fill="none" stroke="#888" stroke-width="3.8" stroke-linecap="round" opacity="0.15" filter="url(#b2)"/>
<path d="M269.2,400.0 Q278.0,400.0 286.8,400.0" fill="none" stroke="#888" stroke-width="1.3" stroke-linecap="round" opacity="0.7" filter="url(#b1)"/>
<path d="M293.2,402.2 Q302.0,403.0 310.8,402.2" fill="none" stroke="#fff" stroke-width="8.2" stroke-linecap="round" opacity="0.22" filter="url(#b2)"/>
<path d="M293.2,402.2 Q302.0,403.0 310.8,402.2" fill="none" stroke="#fff" stroke-width="2.7" stroke-linecap="round" opacity="1" filter="url(#b1)"/>
<path d="M318.2,400.0 Q327.0,400.0 335.8,400.0" fill="none" stroke="#aaa" stroke-width="4.3" stroke-linecap="round" opacity="0.18" filter="url(#b2)"/>
<path d="M318.2,400.0 Q327.0,400.0 335.8,400.0" fill="none" stroke="#aaa" stroke-width="1.4" stroke-linecap="round" opacity="0.8" filter="url(#b1)"/>
<path d="M343.4,401.4 Q352.2,401.4 361.0,401.4" fill="none" stroke="#fff" stroke-width="6.7" stroke-linecap="round" opacity="0.20" filter="url(#b2)"/>
<path d="M343.4,401.4 Q352.2,401.4 361.0,401.4" fill="none" stroke="#fff" stroke-width="2.2" stroke-linecap="round" opacity="0.92" filter="url(#b1)"/>
<path d="M368.2,401.4 Q377.0,401.4 385.8,401.4" fill="none" stroke="#fff" stroke-width="6.7" stroke-linecap="round" opacity="0.20" filter="url(#b2)"/>
<path d="M368.2,401.4 Q377.0,401.4 385.8,401.4" fill="none" stroke="#fff" stroke-width="2.2" stroke-linecap="round" opacity="0.92" filter="url(#b1)"/>
</g>
<g clip-path="url(#c10)">
<rect x="119.1" y="415.0" width="271.4" height="21.2" fill="#1d1d1d"/>
<rect x="169.8" y="416.0" width="20" height="8.0" fill="#555" opacity="0.5" filter="url(#b3)"/>
<rect x="219.0" y="417.0" width="20" height="7.0" fill="#444" opacity="0.4" filter="url(#b3)"/>
<rect x="292.0" y="416.0" width="20" height="7.0" fill="#555" opacity="0.5" filter="url(#b3)"/>
<rect x="367.0" y="417.0" width="20" height="5.0" fill="#555" opacity="0.5" filter="url(#b3)"/>
<path d="M146.8,424.6 Q155.6,424.6 164.4,424.6" fill="none" stroke="#555" stroke-width="3.8" stroke-linecap="round" opacity="0.13" filter="url(#b2)"/>
<path d="M146.8,424.6 Q155.6,424.6 164.4,424.6" fill="none" stroke="#555" stroke-width="1.3" stroke-linecap="round" opacity="0.6" filter="url(#b1)"/>
<path d="M171.0,425.7 Q179.8,425.7 188.6,425.7" fill="none" stroke="#eee" stroke-width="7.7" stroke-linecap="round" opacity="0.20" filter="url(#b2)"/>
<path d="M171.0,425.7 Q179.8,425.7 188.6,425.7" fill="none" stroke="#eee" stroke-width="2.6" stroke-linecap="round" opacity="0.92" filter="url(#b1)"/>
<path d="M220.2,425.5 Q229.0,425.5 237.8,425.5" fill="none" stroke="#aaa" stroke-width="6.7" stroke-linecap="round" opacity="0.19" filter="url(#b2)"/>
<path d="M220.2,425.5 Q229.0,425.5 237.8,425.5" fill="none" stroke="#aaa" stroke-width="2.2" stroke-linecap="round" opacity="0.85" filter="url(#b1)"/>
<path d="M293.2,424.6 Q302.0,424.6 310.8,424.6" fill="none" stroke="#eee" stroke-width="7.2" stroke-linecap="round" opacity="0.20" filter="url(#b2)"/>
<path d="M293.2,424.6 Q302.0,424.6 310.8,424.6" fill="none" stroke="#eee" stroke-width="2.4" stroke-linecap="round" opacity="0.92" filter="url(#b1)"/>
<path d="M368.2,423.4 Q377.0,423.4 385.8,423.4" fill="none" stroke="#999" stroke-width="8.2" stroke-linecap="round" opacity="0.18" filter="url(#b2)"/>
<path d="M368.2,423.4 Q377.0,423.4 385.8,423.4" fill="none" stroke="#999" stroke-width="2.7" stroke-linecap="round" opacity="0.8" filter="url(#b1)"/>
</g>
<g clip-path="url(#c11)">
<rect x="119.1" y="438.2" width="271.4" height="18.8" fill="#1b1b1b"/>
<rect x="120.9" y="439.5" width="20" height="3.0" fill="#555" opacity="0.5" filter="url(#b3)"/>
<rect x="169.8" y="439.5" width="20" height="5.5" fill="#666" opacity="0.55" filter="url(#b3)"/>
<rect x="194.5" y="439.5" width="20" height="2.5" fill="#555" opacity="0.4" filter="url(#b3)"/>
<rect x="219.0" y="439.0" width="20" height="6.0" fill="#888" opacity="0.6" filter="url(#b3)"/>
<path d="M122.1,449.2 Q130.9,449.2 139.7,449.2" fill="none" stroke="#aaa" stroke-width="7.7" stroke-linecap="round" opacity="0.19" filter="url(#b2)"/>
<path d="M122.1,449.2 Q130.9,449.2 139.7,449.2" fill="none" stroke="#aaa" stroke-width="2.6" stroke-linecap="round" opacity="0.85" filter="url(#b1)"/>
<path d="M146.8,448.8 Q155.6,448.3 164.4,447.8" fill="none" stroke="#999" stroke-width="5.3" stroke-linecap="round" opacity="0.18" filter="url(#b2)"/>
<path d="M146.8,448.8 Q155.6,448.3 164.4,447.8" fill="none" stroke="#999" stroke-width="1.8" stroke-linecap="round" opacity="0.8" filter="url(#b1)"/>
<path d="M171.0,447.7 Q179.8,447.7 188.6,447.7" fill="none" stroke="#bbb" stroke-width="7.2" stroke-linecap="round" opacity="0.19" filter="url(#b2)"/>
<path d="M171.0,447.7 Q179.8,447.7 188.6,447.7" fill="none" stroke="#bbb" stroke-width="2.4" stroke-linecap="round" opacity="0.85" filter="url(#b1)"/>
<path d="M195.7,447.0 Q204.5,447.0 213.3,447.0" fill="none" stroke="#999" stroke-width="4.8" stroke-linecap="round" opacity="0.17" filter="url(#b2)"/>
<path d="M195.7,447.0 Q204.5,447.0 213.3,447.0" fill="none" stroke="#999" stroke-width="1.6" stroke-linecap="round" opacity="0.75" filter="url(#b1)"/>
<path d="M220.2,446.7 Q229.0,446.7 237.8,446.7" fill="none" stroke="#ddd" stroke-width="7.7" stroke-linecap="round" opacity="0.20" filter="url(#b2)"/>
<path d="M220.2,446.7 Q229.0,446.7 237.8,446.7" fill="none" stroke="#ddd" stroke-width="2.6" stroke-linecap="round" opacity="0.9" filter="url(#b1)"/>
<path d="M244.7,445.3 Q253.5,445.6 262.3,445.9" fill="none" stroke="#888" stroke-width="3.8" stroke-linecap="round" opacity="0.15" filter="url(#b2)"/>
<path d="M244.7,445.3 Q253.5,445.6 262.3,445.9" fill="none" stroke="#888" stroke-width="1.3" stroke-linecap="round" opacity="0.7" filter="url(#b1)"/>
<path d="M293.2,443.6 Q302.0,443.6 310.8,443.6" fill="none" stroke="#aaa" stroke-width="5.8" stroke-linecap="round" opacity="0.18" filter="url(#b2)"/>
<path d="M293.2,443.6 Q302.0,443.6 310.8,443.6" fill="none" stroke="#aaa" stroke-width="1.9" stroke-linecap="round" opacity="0.8" filter="url(#b1)"/>
<path d="M318.2,443.6 Q327.0,443.6 335.8,443.6" fill="none" stroke="#666" stroke-width="2.9" stroke-linecap="round" opacity="0.13" filter="url(#b2)"/>
<path d="M318.2,443.6 Q327.0,443.6 335.8,443.6" fill="none" stroke="#666" stroke-width="1.0" stroke-linecap="round" opacity="0.6" filter="url(#b1)"/>
<path d="M343.4,443.2 Q352.2,443.2 361.0,443.2" fill="none" stroke="#aaa" stroke-width="5.8" stroke-linecap="round" opacity="0.18" filter="url(#b2)"/>
<path d="M343.4,443.2 Q352.2,443.2 361.0,443.2" fill="none" stroke="#aaa" stroke-width="1.9" stroke-linecap="round" opacity="0.8" filter="url(#b1)"/>
<path d="M368.2,444.0 Q377.0,444.0 385.8,444.0" fill="none" stroke="#bbb" stroke-width="6.2" stroke-linecap="round" opacity="0.19" filter="url(#b2)"/>
<path d="M368.2,444.0 Q377.0,444.0 385.8,444.0" fill="none" stroke="#bbb" stroke-width="2.1" stroke-linecap="round" opacity="0.85" filter="url(#b1)"/>
</g>
<g clip-path="url(#c12)">
<rect x="119.1" y="458.9" width="271.4" height="21.3" fill="#242424"/>
<rect x="367.0" y="464.0" width="20" height="4.0" fill="#444" opacity="0.5" filter="url(#b3)"/>
<path d="M171.0,466.9 Q179.8,466.9 188.6,466.9" fill="none" stroke="#555" stroke-width="4.8" stroke-linecap="round" opacity="0.11" filter="url(#b2)"/>
<path d="M171.0,466.9 Q179.8,466.9 188.6,466.9" fill="none" stroke="#555" stroke-width="1.6" stroke-linecap="round" opacity="0.5" filter="url(#b1)"/>
<path d="M220.2,466.9 Q229.0,466.9 237.8,466.9" fill="none" stroke="#555" stroke-width="4.8" stroke-linecap="round" opacity="0.11" filter="url(#b2)"/>
<path d="M220.2,466.9 Q229.0,466.9 237.8,466.9" fill="none" stroke="#555" stroke-width="1.6" stroke-linecap="round" opacity="0.5" filter="url(#b1)"/>
<path d="M368.2,468.9 Q377.0,468.9 385.8,468.9" fill="none" stroke="#888" stroke-width="8.6" stroke-linecap="round" opacity="0.18" filter="url(#b2)"/>
<path d="M368.2,468.9 Q377.0,468.9 385.8,468.9" fill="none" stroke="#888" stroke-width="2.9" stroke-linecap="round" opacity="0.8" filter="url(#b1)"/>
</g>
<g clip-path="url(#c13)">
<rect x="119.1" y="481.8" width="271.4" height="21.4" fill="#272727"/>
<path d="M122.1,494.4 Q130.9,494.4 139.7,494.4" fill="none" stroke="#999" stroke-width="7.2" stroke-linecap="round" opacity="0.18" filter="url(#b2)"/>
<path d="M122.1,494.4 Q130.9,494.4 139.7,494.4" fill="none" stroke="#999" stroke-width="2.4" stroke-linecap="round" opacity="0.8" filter="url(#b1)"/>
<path d="M146.8,494.6 Q155.6,494.6 164.4,494.6" fill="none" stroke="#888" stroke-width="6.7" stroke-linecap="round" opacity="0.17" filter="url(#b2)"/>
<path d="M146.8,494.6 Q155.6,494.6 164.4,494.6" fill="none" stroke="#888" stroke-width="2.2" stroke-linecap="round" opacity="0.75" filter="url(#b1)"/>
<path d="M171.0,494.8 Q179.8,494.8 188.6,494.8" fill="none" stroke="#bbb" stroke-width="8.2" stroke-linecap="round" opacity="0.19" filter="url(#b2)"/>
<path d="M171.0,494.8 Q179.8,494.8 188.6,494.8" fill="none" stroke="#bbb" stroke-width="2.7" stroke-linecap="round" opacity="0.85" filter="url(#b1)"/>
<path d="M195.7,494.6 Q204.5,494.6 213.3,494.6" fill="none" stroke="#aaa" stroke-width="7.2" stroke-linecap="round" opacity="0.18" filter="url(#b2)"/>
<path d="M195.7,494.6 Q204.5,494.6 213.3,494.6" fill="none" stroke="#aaa" stroke-width="2.4" stroke-linecap="round" opacity="0.8" filter="url(#b1)"/>
<path d="M220.2,494.3 Q229.0,494.0 237.8,493.7" fill="none" stroke="#bbb" stroke-width="7.7" stroke-linecap="round" opacity="0.19" filter="url(#b2)"/>
<path d="M220.2,494.3 Q229.0,494.0 237.8,493.7" fill="none" stroke="#bbb" stroke-width="2.6" stroke-linecap="round" opacity="0.85" filter="url(#b1)"/>
<path d="M244.7,493.3 Q253.5,493.0 262.3,492.7" fill="none" stroke="#888" stroke-width="6.2" stroke-linecap="round" opacity="0.17" filter="url(#b2)"/>
<path d="M244.7,493.3 Q253.5,493.0 262.3,492.7" fill="none" stroke="#888" stroke-width="2.1" stroke-linecap="round" opacity="0.75" filter="url(#b1)"/>
<path d="M269.2,491.2 Q278.0,490.9 286.8,490.6" fill="none" stroke="#777" stroke-width="5.8" stroke-linecap="round" opacity="0.15" filter="url(#b2)"/>
<path d="M269.2,491.2 Q278.0,490.9 286.8,490.6" fill="none" stroke="#777" stroke-width="1.9" stroke-linecap="round" opacity="0.7" filter="url(#b1)"/>
<path d="M293.2,490.2 Q302.0,489.9 310.8,489.6" fill="none" stroke="#aaa" stroke-width="7.2" stroke-linecap="round" opacity="0.18" filter="url(#b2)"/>
<path d="M293.2,490.2 Q302.0,489.9 310.8,489.6" fill="none" stroke="#aaa" stroke-width="2.4" stroke-linecap="round" opacity="0.8" filter="url(#b1)"/>
<path d="M318.2,490.1 Q327.0,490.1 335.8,490.1" fill="none" stroke="#888" stroke-width="6.7" stroke-linecap="round" opacity="0.17" filter="url(#b2)"/>
<path d="M318.2,490.1 Q327.0,490.1 335.8,490.1" fill="none" stroke="#888" stroke-width="2.2" stroke-linecap="round" opacity="0.75" filter="url(#b1)"/>
<path d="M343.4,489.6 Q352.2,489.6 361.0,489.6" fill="none" stroke="#bbb" stroke-width="7.2" stroke-linecap="round" opacity="0.19" filter="url(#b2)"/>
<path d="M343.4,489.6 Q352.2,489.6 361.0,489.6" fill="none" stroke="#bbb" stroke-width="2.4" stroke-linecap="round" opacity="0.85" filter="url(#b1)"/>
<path d="M368.2,489.1 Q377.0,488.7 385.8,488.3" fill="none" stroke="#ccc" stroke-width="7.7" stroke-linecap="round" opacity="0.20" filter="url(#b2)"/>
<path d="M368.2,489.1 Q377.0,488.7 385.8,488.3" fill="none" stroke="#ccc" stroke-width="2.6" stroke-linecap="round" opacity="0.9" filter="url(#b1)"/>
</g>
</svg>
</body></html>
